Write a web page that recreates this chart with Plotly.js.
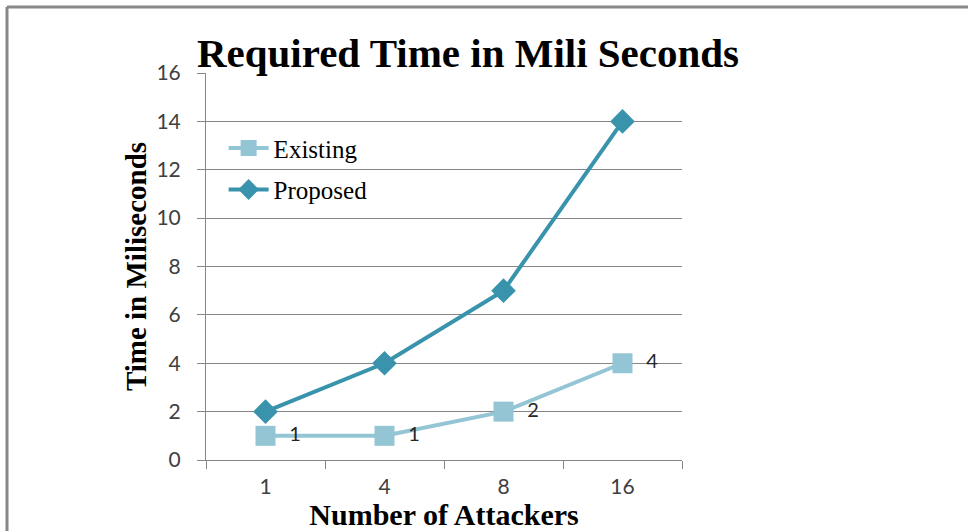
<!DOCTYPE html>
<html>
<head>
<meta charset="utf-8">
<script src="https://cdn.plot.ly/plotly-3.0.1.min.js"></script>
<style>html,body{margin:0;padding:0;background:#fff;}#chart{width:968px;height:531px;}</style>
</head>
<body>
<div id="chart"></div>
<script>
const categories = ["1", "4", "8", "16"];
const existing = [1, 1, 2, 4];
const proposed = [2, 4, 7, 14];
const existingLabels = existing.map(v => String(v));
const yTicks = [0, 2, 4, 6, 8, 10, 12, 14, 16];

const serif = "Liberation Serif, Times New Roman, serif";
const sans = "Lato, Carlito, Noto Sans, sans-serif";

const traces = [
  {
    x: categories, y: existing, name: "Existing", legendgroup: "a",
    type: "scatter", mode: "lines+markers+text",
    text: existingLabels.map(t => "  " + t),
    textposition: "middle right",
    textfont: {family: sans, size: 20, color: "#262626"},
    line: {color: "#93C5D5", width: 4},
    marker: {symbol: "square", size: 20, color: "#93C5D5"}
  },
  {
    x: categories, y: proposed, name: "Proposed", legendgroup: "b",
    type: "scatter", mode: "lines+markers",
    line: {color: "#3A93AC", width: 4},
    marker: {symbol: "diamond", size: 19, color: "#3A93AC"}
  }
];

const layout = {
  width: 968, height: 531,
  margin: {l: 206, r: 286, t: 73, b: 71},
  paper_bgcolor: "#fff", plot_bgcolor: "#fff",
  showlegend: true,
  legend: {
    x: 0.037, y: 0.865, xanchor: "left", yanchor: "top",
    font: {family: serif, size: 25, color: "#000"},
    bgcolor: "rgba(0,0,0,0)", tracegroupgap: 6, itemwidth: 40
  },
  title: {
    text: "<b>Required Time in Mili Seconds</b>",
    font: {family: serif, size: 41, color: "#000"},
    xref: "container", yref: "container",
    x: 468/968, xanchor: "center", y: 1 - 53/531, yanchor: "middle"
  },
  xaxis: {
    type: "category", range: [-0.5, 3.5],
    tickson: "boundaries", ticks: "outside", ticklen: 8, tickcolor: "#868686",
    showline: true, linecolor: "#868686", linewidth: 1,
    showgrid: false, zeroline: false, ticklabelstandoff: 8,
    tickfont: {family: sans, size: 21, color: "#404040"},
    title: {text: "<b>Number of Attackers</b>", font: {family: serif, size: 30, color: "#000"}, standoff: 0}
  },
  yaxis: {
    range: [0, 16], tickvals: yTicks, ticktext: yTicks.map(String),
    ticks: "outside", ticklen: 8, tickcolor: "#868686",
    showline: true, linecolor: "#868686", linewidth: 1,
    showgrid: true, gridcolor: "#868686", gridwidth: 1, zeroline: false, ticklabelstandoff: 12,
    tickfont: {family: sans, size: 21, color: "#404040"},
    title: {text: "<b>Time in Miliseconds</b>", font: {family: serif, size: 29, color: "#000"}, standoff: 1}
  },
  shapes: [
    {type: "line", xref: "paper", yref: "paper",
     x0: (7 - 206)/476, x1: (975 - 206)/476, y0: (460 - 7)/387, y1: (460 - 7)/387,
     line: {color: "#888", width: 3}},
    {type: "line", xref: "paper", yref: "paper",
     x0: (7 - 206)/476, x1: (7 - 206)/476, y0: (460 - 7)/387, y1: (460 - 540)/387,
     line: {color: "#888", width: 3}}
  ]
};

Plotly.newPlot("chart", traces, layout, {displayModeBar: false, staticPlot: true});
</script>
</body>
</html>
